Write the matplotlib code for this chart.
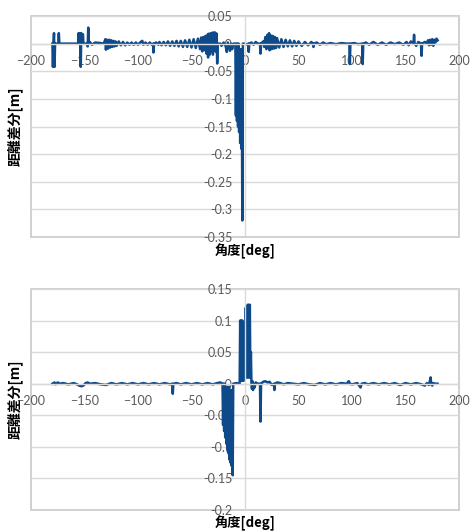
import matplotlib
matplotlib.use("Agg")
import matplotlib.pyplot as plt
import numpy as np

# ---- top chart: (angle [deg], distance diff [m]) ----
top_points = [
    (-180, 0), (-179.5, -0.042), (-179, 0), (-178.5, 0.019), (-178, -0.042), (-177.5, 0),
    (-176, 0), (-174.5, 0), (-174, 0.019), (-173.5, 0), (-172, 0), (-165, 0), (-160, 0),
    (-156, 0), (-155.5, 0.019), (-155, 0), (-154.5, 0.019), (-154, 0), (-153.5, -0.042),
    (-153, 0.019), (-152, 0), (-151.5, 0.017), (-151, 0), (-148, 0), (-147, -0.005),
    (-146.5, 0.029), (-146, 0), (-145, 0.003), (-143, -0.002), (-140, 0.002), (-135, 0.001),
    (-132, 0),
    (-130.5, 0.008), (-130, -0.011), (-129, 0.007), (-128, -0.009), (-127, 0.007), (-126, -0.007),
    (-125, 0.006), (-124, -0.006), (-123, 0.005), (-122, -0.005), (-121, 0.004), (-120, -0.004),
    (-118, 0.004), (-116, -0.003), (-114, 0.003), (-112, -0.003), (-110, 0.002), (-108, -0.002),
    (-106, 0.002), (-104, -0.002), (-102, 0.002), (-100, -0.002), (-98, 0.002), (-96, 0.005),
    (-95, -0.002), (-93, 0.002), (-91, -0.002), (-89, 0.002), (-87, -0.002), (-86, 0),
    (-85.5, -0.016), (-85, 0), (-83, 0.002), (-81, -0.002),
    (-80, 0.003), (-78, -0.003), (-76, 0.003), (-74, -0.003), (-72, 0.004), (-70, -0.004),
    (-68, 0.004), (-66, -0.004), (-64, 0.005), (-62, -0.005), (-60, 0.005), (-58, -0.006),
    (-56, 0.006), (-54, -0.006), (-52, 0.007), (-50, -0.007), (-48, 0.008), (-46, -0.008),
    (-44, 0.009), (-42, -0.010), (-41, 0.011), (-40, -0.014), (-39, 0.012), (-38, -0.012),
    (-37, 0.014), (-36, -0.018), (-35, 0.016), (-34.5, -0.025), (-34, 0.018), (-33, -0.020),
    (-32, 0.019), (-31, -0.014), (-30.5, 0.020), (-30, -0.020), (-29, 0.020), (-28.5, -0.012),
    (-28, 0.020), (-27, -0.015), (-26.5, 0.018), (-26, -0.036), (-25.5, 0), (-23, 0),
    (-22, -0.004), (-20, 0.002), (-18, -0.005), (-17, -0.015), (-16, 0.002), (-14, -0.013),
    (-13, 0), (-12, -0.010), (-11, 0), (-10, 0),
    (-9, 0), (-8.5, -0.13), (-8, 0), (-7.5, -0.14), (-7, 0), (-6.5, -0.15), (-6, 0),
    (-5.5, -0.16), (-5, -0.01), (-4.5, -0.18), (-4, -0.01), (-3.5, -0.19), (-3, -0.05),
    (-2.5, -0.32), (-2, 0),
    (0, 0), (2, -0.002), (3, 0), (3.5, -0.015), (4, 0), (6, 0.002), (8, -0.002), (10, 0.003),
    (12, 0), (14, 0), (14.5, -0.018), (15, 0), (17, 0.004), (18, -0.006), (19, 0.012),
    (20, -0.010), (21, 0.016), (22, -0.008), (22.5, 0.019), (23, -0.012), (24, 0.015),
    (25, -0.010), (26, 0.014), (27, -0.009), (28, 0.012), (29, -0.008), (30, 0.010),
    (32, -0.007), (34, 0.008), (36, -0.006), (38, 0.007), (40, -0.005), (42, 0.006),
    (44, -0.005), (46, 0.005), (48, -0.004), (50, 0.004), (53, -0.004), (56, 0.003),
    (59, -0.003), (62, 0.003), (63.5, 0), (64, -0.006), (64.5, 0), (67, 0.002), (70, -0.002),
    (73, 0.002), (76, -0.001), (80, 0.001), (85, -0.001), (90, 0.001), (95, 0),
    (97.5, 0), (98, -0.037), (98.5, 0), (102, 0.001), (106, -0.001), (109.5, 0),
    (110, -0.037), (110.5, 0), (113, 0.002), (116, -0.002), (120, 0.003), (124, -0.002),
    (128, 0.002), (132, -0.002), (136, 0.002), (140, -0.001), (144, 0.002), (148, -0.002),
    (151, 0.003), (153, -0.003), (155, 0.004), (157.5, 0), (158, 0.016), (158.5, 0),
    (160, -0.004), (162, 0.003), (164.5, 0), (165, -0.022), (165.5, 0), (168, 0.003),
    (170, 0), (171, 0.006), (172, -0.003), (173, 0.007), (174, -0.002), (175, 0.008),
    (176, -0.004), (177, 0.007), (178, 0.002), (179, 0.009), (180, 0.006),
]

# ---- bottom chart ----
bot_points = [
    (-180, 0), (-178, 0.002), (-177, -0.001), (-175, 0.002), (-173, 0), (-170, 0.001),
    (-165, -0.001), (-160, 0.001), (-157, -0.001), (-155, -0.003), (-153, -0.004),
    (-151, -0.003), (-149, 0.001), (-147, 0.002), (-145, 0), (-140, 0.001), (-135, -0.001),
    (-130, -0.002), (-125, 0.001), (-120, -0.001), (-115, 0.001), (-110, -0.001),
    (-105, 0.001), (-100, -0.001), (-95, 0.001), (-90, -0.001), (-85, 0.001), (-80, -0.001),
    (-75, 0.001), (-70, -0.001), (-68, 0), (-67.5, -0.016), (-67, 0), (-64, 0.001),
    (-60, -0.001), (-55, 0.001), (-50, -0.001), (-45, 0.001), (-40, -0.001), (-35, 0.001),
    (-30, -0.001), (-26, 0.001), (-23, 0.002), (-21, 0),
    (-20.5, -0.065), (-20, 0), (-19.5, -0.075), (-19, 0), (-18.5, -0.085), (-18, -0.005),
    (-17.5, -0.095), (-17, -0.005), (-16.5, -0.105), (-16, -0.005), (-15.5, -0.110),
    (-15, -0.005), (-14.5, -0.120), (-14, -0.010), (-13.5, -0.125), (-13, -0.010),
    (-12.5, -0.130), (-12, -0.010), (-11.5, -0.145), (-11, 0), (-8, 0.001), (-5, 0),
    (-4.5, 0.100), (-4, 0.005), (-3.5, 0.100), (-3, 0.005), (-2.5, 0.100), (-2, 0.005),
    (-1.5, 0.095), (-1, 0.005), (-0.5, 0.095), (0, 0.010), (0.5, 0.120), (1, 0.010),
    (1.5, 0.120), (2, 0.010), (2.5, 0.125), (3, 0.010), (3.5, 0.125), (4, 0.010),
    (4.5, 0.125), (5, 0.010), (5.5, 0.050), (6, 0.002), (6.5, -0.008), (7, 0.004),
    (7.5, -0.010), (8, 0), (9, -0.006), (10, 0.002), (12, 0), (14, 0), (14.5, -0.060),
    (15, 0), (17, 0.003), (19, 0.004), (21, 0.002), (23, 0.003), (25, -0.002), (27, 0),
    (27.5, -0.010), (28, 0), (30, 0.002), (33, 0.001), (36, -0.001), (40, 0.001), (45, 0),
    (50, -0.001), (55, 0.001), (60, -0.001), (65, -0.002), (70, 0.001), (75, -0.001),
    (80, 0.001), (85, -0.001), (90, 0.001), (95, 0), (97, 0.004), (98, 0), (100, -0.001),
    (105, 0.001), (108, -0.006), (109, 0), (112, 0.001), (115, -0.001), (120, 0.001),
    (125, -0.001), (130, 0.001), (135, -0.001), (140, 0.001), (145, -0.002), (150, 0.001),
    (155, -0.001), (160, 0.001), (165, -0.001), (168, -0.003), (170, 0.001), (172, -0.002),
    (173.5, 0.010), (174, 0), (175, -0.003), (176, 0.001), (178, 0), (180, 0),
]

top_deg, top_diff = zip(*top_points)
bot_deg, bot_diff = zip(*bot_points)

line_color = "#0e4a8a"
grid_color = "#d9d9d9"
tick_color = "#595959"
tick_font = "Lato"
label_font = ["Noto Sans CJK JP", "DejaVu Sans"]

fig = plt.figure(figsize=(4.70, 5.31), dpi=100)
W, H = 470, 531


def make_axes(top_px, bottom_px):
    return fig.add_axes([31 / W, 1 - bottom_px / H, (459 - 31) / W, (bottom_px - top_px) / H])


def style(ax, ylim, ystep, xlab_y):
    ax.set_xlim(-200, 200)
    ax.set_ylim(*ylim)
    ax.set_xticks(np.arange(-200, 201, 50))
    yt = np.round(np.arange(ylim[0], ylim[1] + ystep / 2, ystep), 2)
    ax.set_yticks(yt)
    ax.set_yticklabels([("%g" % v) for v in yt])
    ax.spines["left"].set_position(("data", 0))
    ax.spines["bottom"].set_position(("data", 0))
    for s in ["left", "bottom"]:
        ax.spines[s].set_color(grid_color)
        ax.spines[s].set_linewidth(1)
    ax.spines["top"].set_visible(False)
    ax.spines["right"].set_visible(False)
    ax.patch.set_edgecolor("#c8c8c8")
    ax.patch.set_linewidth(1.2)
    ax.grid(True, axis="y", color=grid_color, linewidth=1)
    ax.set_axisbelow(True)
    ax.tick_params(axis="y", length=0, labelsize=9, labelcolor=tick_color, pad=9)
    ax.tick_params(axis="x", length=0, labelsize=9, labelcolor=tick_color, pad=8)
    for t in ax.get_xticklabels() + ax.get_yticklabels():
        t.set_fontfamily(tick_font)
    ax.set_xlabel("角度[deg]", family=label_font, fontweight="bold", fontsize=9.5, va="center")
    ax.xaxis.set_label_coords(0.5, xlab_y)
    ax.set_ylabel("距離差分[m]", family=label_font, fontweight="bold", fontsize=10)
    ax.yaxis.set_label_coords(-0.019, 0.5)


ax1 = make_axes(16, 237)
ax1.plot(top_deg, top_diff, color=line_color, linewidth=1.8)
style(ax1, (-0.35, 0.05), 0.05, -0.063)

ax2 = make_axes(289, 510)
ax2.plot(bot_deg, bot_diff, color=line_color, linewidth=1.8)
style(ax2, (-0.2, 0.15), 0.05, -0.06)

fig.savefig("out.png", dpi=100)
